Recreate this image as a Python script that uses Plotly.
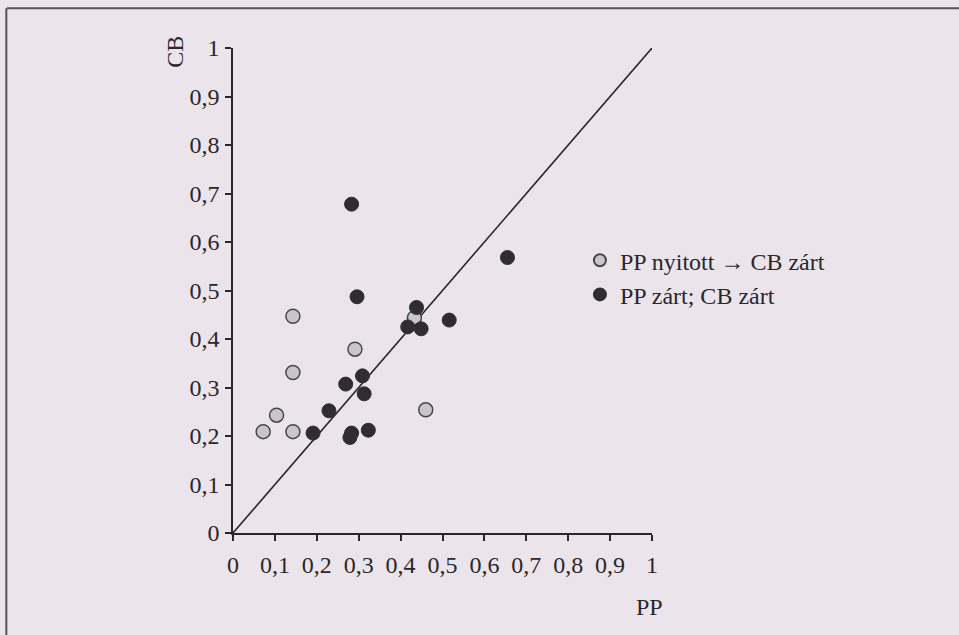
import plotly.graph_objects as go

# Data
open_pp = [0.072, 0.104, 0.143, 0.143, 0.143, 0.291, 0.433, 0.460]
open_cb = [0.209, 0.243, 0.209, 0.331, 0.447, 0.379, 0.444, 0.254]

closed_pp = [0.283, 0.296, 0.655, 0.438, 0.417, 0.449, 0.516, 0.309, 0.269, 0.313, 0.229, 0.191, 0.283, 0.279, 0.323]
closed_cb = [0.678, 0.487, 0.568, 0.465, 0.425, 0.421, 0.439, 0.324, 0.307, 0.287, 0.252, 0.206, 0.206, 0.197, 0.212]

ref_line = [0, 1]
tick_vals = [0, 0.1, 0.2, 0.3, 0.4, 0.5, 0.6, 0.7, 0.8, 0.9, 1]
tick_text = ["0", "0,1", "0,2", "0,3", "0,4", "0,5", "0,6", "0,7", "0,8", "0,9", "1"]

FONT = "Liberation Serif"
BG = "#ebe5eb"
INK = "#2a272c"
FS = 24

fig = go.Figure()
fig.add_trace(go.Scatter(x=ref_line, y=ref_line, mode="lines",
                         line=dict(color=INK, width=1.6), showlegend=False, hoverinfo="skip"))
fig.add_trace(go.Scatter(x=open_pp, y=open_cb, mode="markers", name="PP nyitott → CB zárt",
                         marker=dict(size=14, color="#c9c6c9", line=dict(color="#4a464c", width=1.5))))
fig.add_trace(go.Scatter(x=closed_pp, y=closed_cb, mode="markers", name="PP zárt; CB zárt",
                         marker=dict(size=14, color="#302d32", line=dict(color="#302d32", width=1))))

axis_common = dict(range=[0, 1], tickvals=tick_vals, ticktext=tick_text, showgrid=False,
                   zeroline=False, showline=True, linecolor=INK, linewidth=1.5,
                   ticks="outside", ticklen=6, tickwidth=1.5, tickcolor=INK,
                   tickfont=dict(family=FONT, size=FS, color=INK))

fig.update_layout(
    width=959, height=635,
    margin=dict(l=233, r=307, t=48, b=102),
    paper_bgcolor=BG, plot_bgcolor=BG,
    xaxis=dict(**axis_common, ticklabelstandoff=3),
    yaxis=dict(**axis_common, ticklabelstandoff=1),
    showlegend=True,
    legend=dict(x=0.828, y=0.608, xanchor="left", yanchor="top", bgcolor="rgba(0,0,0,0)",
                font=dict(family=FONT, size=FS, color=INK), itemsizing="constant",
                tracegroupgap=0, itemwidth=30),
    annotations=[
        dict(text="CB", xref="paper", yref="paper", x=-0.139, y=0.992, textangle=-90,
             showarrow=False, font=dict(family=FONT, size=FS, color=INK), xanchor="center", yanchor="middle"),
        dict(text="PP", xref="paper", yref="paper", x=0.995, y=-0.153, showarrow=False,
             font=dict(family=FONT, size=FS, color=INK), xanchor="center", yanchor="middle"),
    ],
    shapes=[
        dict(type="line", xref="paper", yref="paper", x0=-0.54, x1=1.75, y0=1.082, y1=1.082,
             line=dict(color="#55525a", width=2)),
        dict(type="line", xref="paper", yref="paper", x0=-0.541, x1=-0.541, y0=1.082, y1=-0.3,
             line=dict(color="#55525a", width=2)),
    ],
)

fig.write_html("out.html")
